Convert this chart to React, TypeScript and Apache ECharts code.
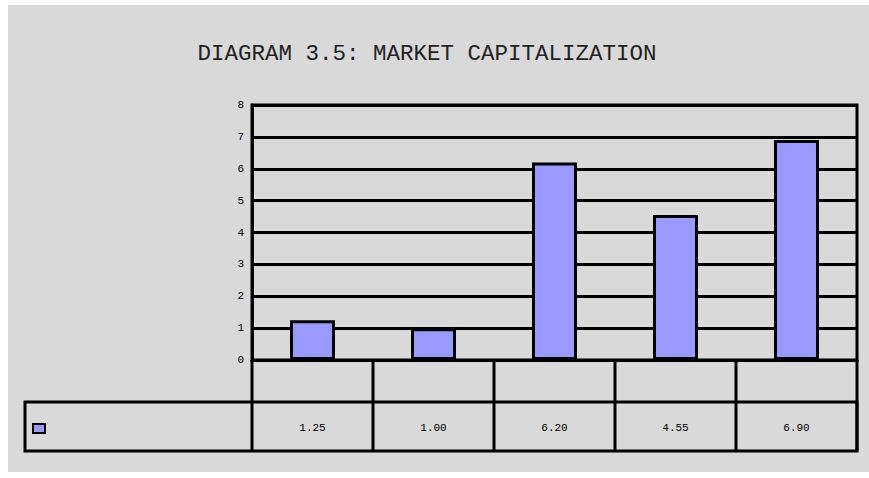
import React, { useEffect, useRef } from "react";
import * as echarts from "echarts";

const title = "DIAGRAM 3.5: MARKET CAPITALIZATION";
const categories = ["A", "B", "C", "D", "E"];
const values = [1.25, 1.0, 6.2, 4.55, 6.9];
const yTicks = [0, 1, 2, 3, 4, 5, 6, 7, 8];

export default function App() {
  const ref = useRef<HTMLDivElement>(null);
  useEffect(() => {
    if (!ref.current) return;
    const chart = echarts.init(ref.current, null, { renderer: "svg" });
    const gridLeft = 252;
    const gridRight = 857;
    const colW = (gridRight - gridLeft) / categories.length;
    const tableTop = 360;
    const tableBottom = 451;
    const graphics: any[] = [
      { type: "rect", z: -10, shape: { x: 8, y: 5, width: 861, height: 467 }, style: { fill: "#d9d9d9" } },
      { type: "line", z: 5, shape: { x1: gridLeft, y1: tableTop, x2: gridLeft, y2: tableBottom }, style: { stroke: "#000", lineWidth: 3 } },
      { type: "rect", z: 5, shape: { x: 25, y: 402, width: gridRight - 25, height: tableBottom - 402 }, style: { fill: "none", stroke: "#000", lineWidth: 3 } },
      { type: "rect", z: 6, shape: { x: 33, y: 424, width: 12, height: 9 }, style: { fill: "#9999ff", stroke: "#000", lineWidth: 2 } },
    ];
    categories.forEach((_, i) => {
      const x = gridLeft + colW * (i + 1);
      graphics.push({ type: "line", z: 5, shape: { x1: x, y1: tableTop, x2: x, y2: tableBottom }, style: { stroke: "#000", lineWidth: 3 } });
      graphics.push({
        type: "text", z: 6, x: gridLeft + colW * (i + 0.5), y: 428,
        style: { text: values[i].toFixed(2), fill: "#000", font: "11px 'Liberation Mono'", align: "center", verticalAlign: "middle" },
      });
    });
    chart.setOption({
      animation: false,
      title: {
        text: title, left: 422, top: 37, textAlign: "center",
        textStyle: { fontFamily: "Courier New, Liberation Mono", fontSize: 22.5, fontWeight: "normal", color: "#222" },
      },
      grid: { left: gridLeft, right: 869 - gridRight, top: 105, bottom: 478 - tableTop, show: true, borderColor: "#000", borderWidth: 3, backgroundColor: "transparent" },
      xAxis: {
        type: "category", data: categories,
        axisLine: { lineStyle: { color: "#000", width: 3 } },
        axisTick: { show: false }, axisLabel: { show: false },
      },
      yAxis: {
        type: "value", min: yTicks[0], max: yTicks[yTicks.length - 1], interval: 1,
        axisLine: { show: true, lineStyle: { color: "#000", width: 3 } },
        axisTick: { show: false },
        splitLine: { lineStyle: { color: "#000", width: 3 } },
        axisLabel: { color: "#000", fontFamily: "Liberation Mono", fontSize: 11, margin: 8 },
      },
      series: [{
        type: "bar", data: values, barWidth: 45,
        itemStyle: { color: "#9999ff", borderColor: "#000", borderWidth: 3 },
      }],
      graphic: graphics,
    });
    return () => chart.dispose();
  }, []);
  return <div ref={ref} style={{ position: "absolute", left: 0, top: 0, width: 869, height: 478 }} />;
}
